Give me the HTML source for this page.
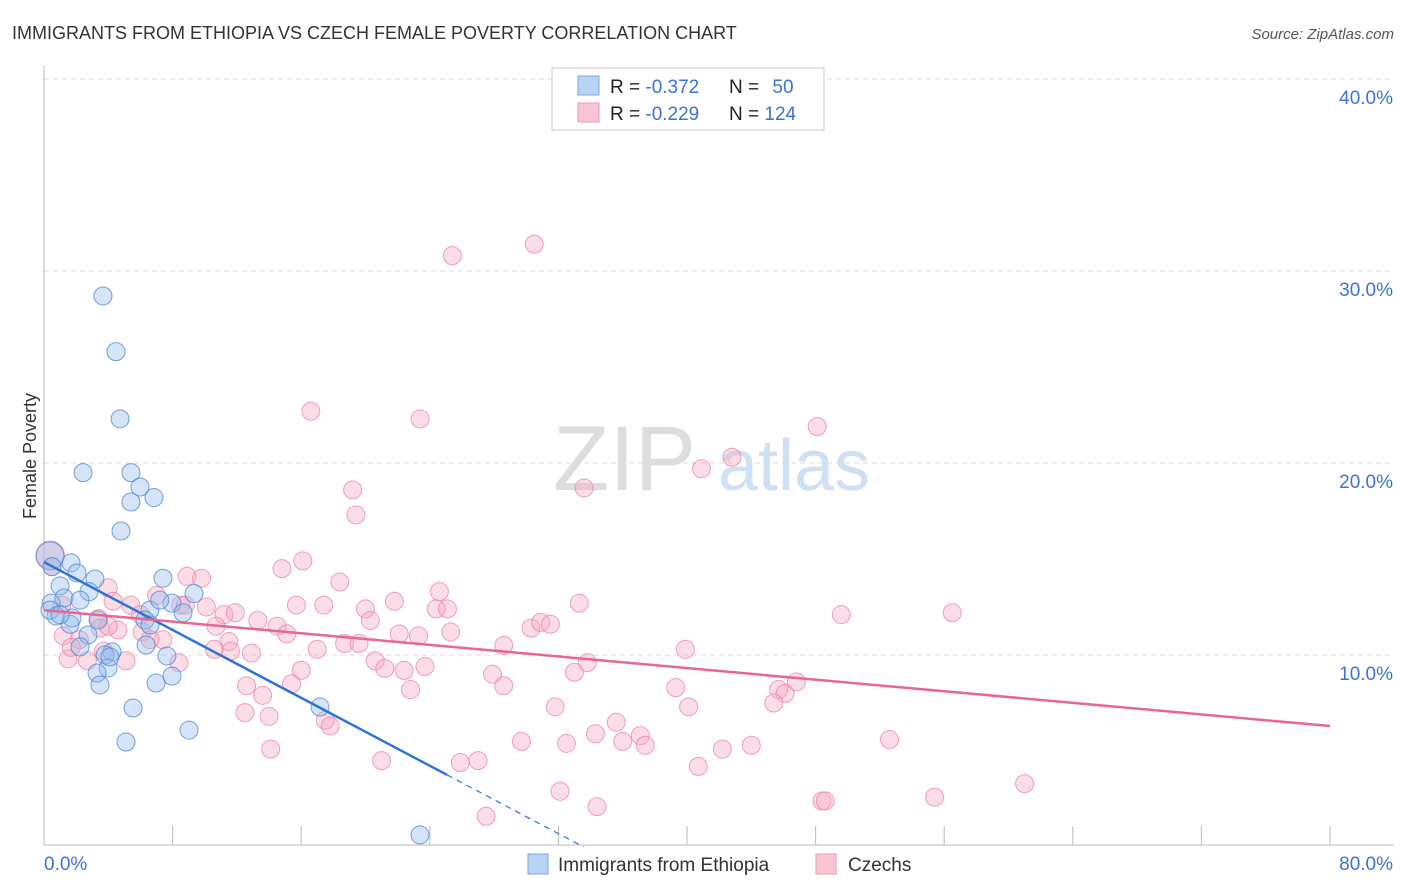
<!DOCTYPE html>
<html><head><meta charset="utf-8">
<style>
body{margin:0;background:#fff;font-family:"Liberation Sans",sans-serif;}
#wrap{position:relative;width:1406px;height:892px;overflow:hidden;}
svg text{font-family:"Liberation Sans",sans-serif;}
</style></head>
<body>
<div id="wrap">
<svg id="chart" width="1406" height="892">
<text x="12" y="39" font-size="18" fill="#333">IMMIGRANTS FROM ETHIOPIA VS CZECH FEMALE POVERTY CORRELATION CHART</text>
<text x="1394" y="39" font-size="15" fill="#555" font-style="italic" text-anchor="end">Source: ZipAtlas.com</text>
<text x="36" y="456" font-size="18" fill="#333" text-anchor="middle" transform="rotate(-90 36 456)">Female Poverty</text>
<g>
<text x="553" y="490" font-size="92" fill="#ddd" font-family="Liberation Serif">ZIP</text>
<text x="718" y="490" font-size="72" fill="#cfe0f4">atlas</text>
</g>
<g id="grid"></g>
<g id="axes"></g>
<g id="points"></g>
<g id="lines"></g>
<g>
<rect x="552" y="68" width="272" height="62" fill="#fff" stroke="#ccc"/>
<rect x="578" y="76" width="21" height="19" fill="#b8d3f3" stroke="#7aa8e0"/>
<rect x="578" y="103" width="21" height="19" fill="#f9c6d4" stroke="#ee98b2"/>
<text x="610" y="93" font-size="19" fill="#222">R = <tspan fill="#3b73d4">-0.372</tspan></text>
<text x="729" y="93" font-size="19" fill="#222">N = <tspan fill="#3b73d4" dx="8">50</tspan></text>
<text x="610" y="120" font-size="19" fill="#222">R = <tspan fill="#3b73d4">-0.229</tspan></text>
<text x="729" y="120" font-size="19" fill="#222">N = <tspan fill="#3b73d4">124</tspan></text>
</g>
<g>
<rect x="528" y="854" width="20" height="20" fill="#b8d3f3" stroke="#7aa8e0"/>
<text x="558" y="871" font-size="19" fill="#333">Immigrants from Ethiopia</text>
<rect x="816" y="854" width="20" height="20" fill="#f9c6d4" stroke="#ee98b2"/>
<text x="848" y="871" font-size="19" fill="#333">Czechs</text>
</g>
</svg>
</div>
<script>
const yTicks=[10,20,30,40];
const yTickLabels=["10.0%","20.0%","30.0%","40.0%"];
const xTickValues=[0,8,16,24,32,40,48,56,64,72,80];
const ethX=[3.67,4.48,4.73,2.43,5.41,5.97,5.41,6.84,4.79,0.37,1.68,0.5,2.05,3.17,7.4,1.0,2.8,1.24,9.33,0.44,7.96,6.59,0.75,3.36,1.62,6.28,8.65,2.74,2.24,6.35,4.23,3.8,7.65,3.98,3.3,7.96,3.48,6.97,5.54,9.02,5.1,17.17,23.39,1.74,0.37,4.1,6.6,7.2,2.24,1.0];
const ethY=[28.7,25.8,22.3,19.5,19.5,18.75,17.97,18.2,16.46,15.16,14.8,14.6,14.27,13.96,14.0,13.6,13.3,12.97,13.2,12.7,12.7,12.34,12.03,11.82,11.6,11.82,12.2,11.04,10.42,10.52,10.16,10.0,9.95,9.32,9.06,8.9,8.44,8.54,7.24,6.09,5.47,7.29,0.63,11.93,12.34,9.9,11.56,12.86,12.86,12.1];
const czX=[25.4,30.5,16.6,23.4,48.1,42.8,40.9,19.2,33.6,19.4,16.1,14.8,8.9,9.8,24.6,18.4,4.0,15.7,17.4,20.0,21.8,24.4,25.1,33.3,49.6,56.5,4.3,5.4,7.0,8.5,10.1,11.2,11.9,13.3,14.5,15.1,10.7,3.4,1.2,2.2,1.1,3.5,4.6,6.1,7.4,11.5,11.6,12.9,17.0,18.7,19.6,20.3,22.1,23.3,25.3,28.6,30.3,30.9,31.5,33.8,33.0,39.9,20.6,21.2,22.4,23.7,16.0,12.6,13.6,15.4,8.4,5.1,3.7,1.5,1.7,4.0,12.5,14.0,17.5,17.8,21.0,14.1,22.8,27.9,28.6,31.8,35.6,34.3,37.1,36.0,37.4,40.1,39.3,29.7,32.5,44.0,42.2,40.7,25.9,27.0,32.1,34.4,27.5,45.7,46.1,46.8,45.4,52.6,48.4,48.6,55.4,61.0,0.4,0.5,6.0,6.6,8.8,10.6,2.7];
const czY=[30.8,31.4,22.7,22.3,21.9,20.3,19.7,18.6,18.7,17.3,14.9,14.5,14.1,14.0,13.3,13.8,13.5,12.6,12.6,12.4,12.8,12.4,12.4,12.7,12.1,12.2,12.8,12.6,13.1,12.6,12.5,12.1,12.2,11.8,11.5,11.1,11.5,11.9,11.0,10.8,12.6,11.4,11.3,11.2,10.8,10.7,10.2,10.1,10.3,10.6,10.6,11.8,11.1,11.0,11.2,10.5,11.4,11.7,11.6,9.6,9.1,10.3,9.7,9.3,9.2,9.4,9.2,8.4,7.9,8.5,9.6,9.7,10.2,9.8,10.4,11.5,7.0,6.8,6.6,6.3,4.5,5.1,8.2,9.0,8.4,7.3,6.5,5.9,5.8,5.5,5.3,7.3,8.3,5.5,5.4,5.3,5.1,4.2,4.4,4.5,2.9,2.1,1.6,8.2,8.0,8.6,7.5,5.6,2.4,2.4,2.6,3.3,15.2,14.6,12.1,10.8,12.6,10.3,9.7];
const ethTrend=[14.84,-0.442];
const czTrend=[12.34,-0.0755];
const X0=44,X1=1330,Y0=847,PXY=19.2;
const sx=v=>X0+v*(X1-X0)/80;
const sy=v=>Y0-v*PXY;
const NS="http://www.w3.org/2000/svg";
function mk(tag,attrs,parent){const e=document.createElementNS(NS,tag);for(const k in attrs)e.setAttribute(k,attrs[k]);parent.appendChild(e);return e;}
const grid=document.getElementById('grid'),axes=document.getElementById('axes'),pts=document.getElementById('points'),lines=document.getElementById('lines');
yTicks.forEach((t,i)=>{
 const l=mk('line',{x1:44,x2:1394,y1:sy(t),y2:sy(t),stroke:'#ddd','stroke-dasharray':'5,4'},grid);
 
 
 const tx=mk('text',{x:1393,y:sy(t)+25,'font-size':19,fill:'#3b73d4','text-anchor':'end'},axes);
 tx.textContent=yTickLabels[i];
 
 
});
const ax=mk('line',{x1:44,x2:1394,y1:845,y2:845,stroke:'#bbb'},axes);


const ay=mk('line',{x1:44,x2:44,y1:66,y2:845,stroke:'#bbb'},axes);


xTickValues.forEach(t=>{
 const l=mk('line',{x1:sx(t),x2:sx(t),y1:826,y2:845,stroke:'#bbb'},axes);
 
 
});
const xl0=mk('text',{x:44,y:870,'font-size':19,fill:'#3b73d4'},axes);xl0.textContent='0.0%';


const xl1=mk('text',{x:1393,y:870,'font-size':19,fill:'#3b73d4','text-anchor':'end'},axes);xl1.textContent='80.0%';


czX.forEach((x,i)=>{
 const c=mk('circle',{cx:sx(x),cy:sy(czY[i]),r:(i==112?14:9),fill:'rgba(246,170,192,0.4)',stroke:'rgba(236,130,165,0.75)','stroke-width':1},pts);
 
 
});
ethX.forEach((x,i)=>{
 const c=mk('circle',{cx:sx(x),cy:sy(ethY[i]),r:(i==9?14:9),fill:'rgba(150,190,236,0.4)',stroke:'rgba(70,130,215,0.75)','stroke-width':1},pts);
 
 
});
const ethEnd=25.07, ethZero=-ethTrend[0]/ethTrend[1];
const l1=mk('line',{x1:sx(0),y1:sy(ethTrend[0]),x2:sx(ethEnd),y2:sy(ethTrend[0]+ethTrend[1]*ethEnd),stroke:'#2f73d9','stroke-width':2.5},lines);


const l2=mk('line',{x1:sx(ethEnd),y1:sy(ethTrend[0]+ethTrend[1]*ethEnd),x2:sx(ethZero),y2:sy(0),stroke:'#2f73d9','stroke-width':1.2,'stroke-dasharray':'6,5'},lines);


const l3=mk('line',{x1:sx(0),y1:sy(czTrend[0]),x2:sx(80),y2:sy(czTrend[0]+czTrend[1]*80),stroke:'#e8668f','stroke-width':2.5},lines);


</script>
</body></html>
